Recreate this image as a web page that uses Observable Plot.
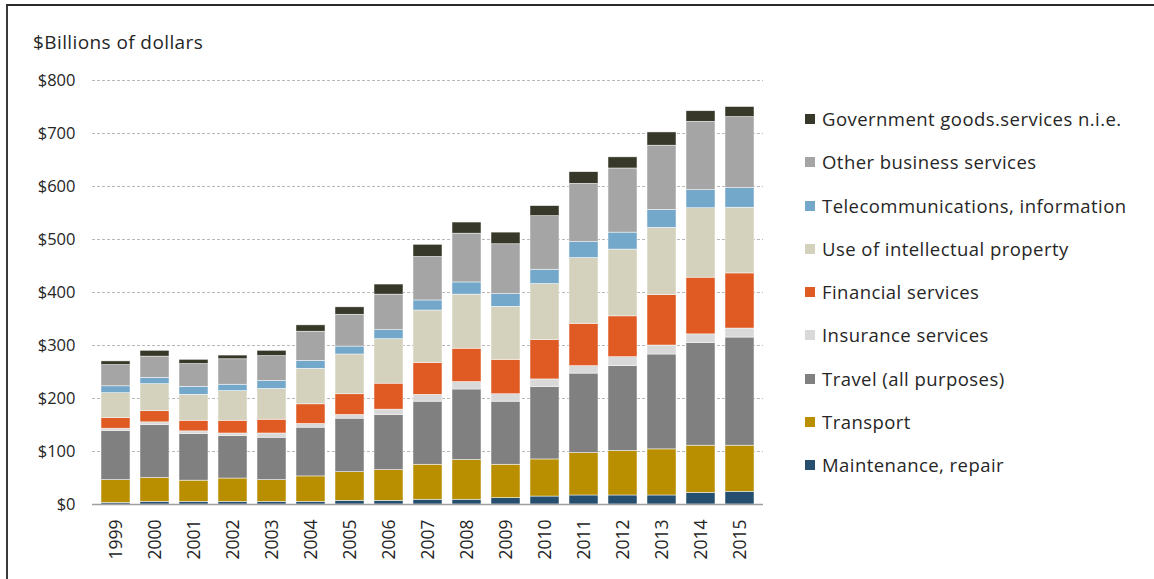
<!DOCTYPE html>
<html>
<head>
<meta charset="utf-8">
<script src="https://cdn.jsdelivr.net/npm/d3@7"></script>
<script src="https://cdn.jsdelivr.net/npm/@observablehq/plot@0.6"></script>
<style>
  html, body { margin: 0; padding: 0; background: #fff; }
  body { width: 1154px; height: 579px; position: relative; overflow: hidden; font-family: "Open Sans", Lato, sans-serif; }
  #frame { position: absolute; left: 6px; top: 4px; width: 1160px; height: 600px; border-top: 2px solid #2a2a2a; border-left: 2px solid #3a3a3a; }
  #chart { position: absolute; left: 0; top: 0; }
  #title { position: absolute; left: 33px; top: 29px; font-size: 19px; letter-spacing: 0.4px; color: #262626; }
  #legend { position: absolute; left: 805px; top: 106px; font-size: 18.5px; letter-spacing: 0.45px; color: #262626; }
  .li { height: 43.3px; display: flex; align-items: flex-start; }
  .sw { width: 10px; height: 10px; margin-top: 8px; margin-right: 7px; flex: none; }
</style>
</head>
<body>
<div id="frame"></div>
<div id="chart"></div>
<div id="title">$Billions of dollars</div>
<div id="legend"></div>
<script>
const years = ["1999","2000","2001","2002","2003","2004","2005","2006","2007","2008","2009","2010","2011","2012","2013","2014","2015"];
// stack order bottom to top
const seriesNames = ["Maintenance, repair","Transport","Travel (all purposes)","Insurance services","Financial services","Use of intellectual property","Telecommunications, information","Other business services","Government goods.services n.i.e."];
const seriesColors = ["#264f6f","#b98f00","#808080","#d9d9d9","#e05a24","#d4d2bd","#74a8cb","#a5a5a5","#38382a"];

const maintenance = [3,5,5,5,5,5,7,7,9,9,12,15,17,17,17,22,24];
const transport   = [43,45,40,44,41,48,54,58,66,75,63,70,80,84,87,89,87];
const travel      = [93,100,88,80,80,92,101,104,119,133,119,137,150,160,179,194,204];
const insurance   = [4,5,5,5,8,7,7,10,13,14,14,14,14,17,17,16,17];
const financial   = [20,21,20,24,26,37,39,49,60,63,65,74,80,77,95,107,104];
const intellectual= [47,51,49,56,58,67,75,84,99,102,100,106,124,126,127,131,124];
const telecom     = [13,12,15,12,15,15,15,17,19,23,24,27,30,32,34,34,37];
const otherBiz    = [40,40,43,48,47,55,60,67,82,92,94,101,110,121,121,129,134];
const government  = [7,11,8,7,10,12,14,19,23,21,22,19,22,21,25,20,19];

const yTicks = [0,100,200,300,400,500,600,700,800];
const yTickLabels = ["$0","$100","$200","$300","$400","$500","$600","$700","$800"];

const seriesValues = [maintenance, transport, travel, insurance, financial, intellectual, telecom, otherBiz, government];
const rows = [];
seriesNames.forEach((s, si) => {
  years.forEach((y, yi) => rows.push({year: y, series: s, value: seriesValues[si][yi]}));
});

const chart = Plot.plot({
  width: 1154,
  height: 579,
  marginLeft: 92,
  marginRight: 391,
  marginTop: 80,
  marginBottom: 75,
  style: {fontFamily: "'Open Sans', Lato, sans-serif", fontSize: "16.5px", color: "#262626", background: "transparent"},
  x: {domain: years, paddingInner: 0.25, paddingOuter: 0.17, label: null},
  y: {domain: [0, 800], label: null},
  color: {domain: seriesNames, range: seriesColors},
  marks: [
    Plot.gridY(yTicks.slice(1), {stroke: "#b8b8b8", strokeOpacity: 1, strokeDasharray: "3,2", strokeWidth: 1}),
    Plot.barY(rows, {x: "year", y: "value", fill: "series", order: seriesNames, stroke: "#ffffff", strokeWidth: 0.6, strokeOpacity: 0.8}),
    Plot.ruleY([0], {stroke: "#a0a0a0", strokeWidth: 1.5}),
    Plot.axisY(yTicks, {tickSize: 0, tickPadding: 17, tickFormat: (d) => yTickLabels[yTicks.indexOf(d)], fontSize: 16.5, fill: "#262626"}),
    Plot.axisX({tickSize: 0, tickPadding: 15, tickRotate: -90, fontSize: 17.5, fill: "#262626", style: "letter-spacing:0.6px"})
  ]
});
document.getElementById("chart").appendChild(chart);

const legend = document.getElementById("legend");
[...seriesNames].reverse().forEach((s) => {
  const c = seriesColors[seriesNames.indexOf(s)];
  const div = document.createElement("div");
  div.className = "li";
  div.innerHTML = `<span class="sw" style="background:${c}"></span><span>${s}</span>`;
  legend.appendChild(div);
});
</script>
</body>
</html>
